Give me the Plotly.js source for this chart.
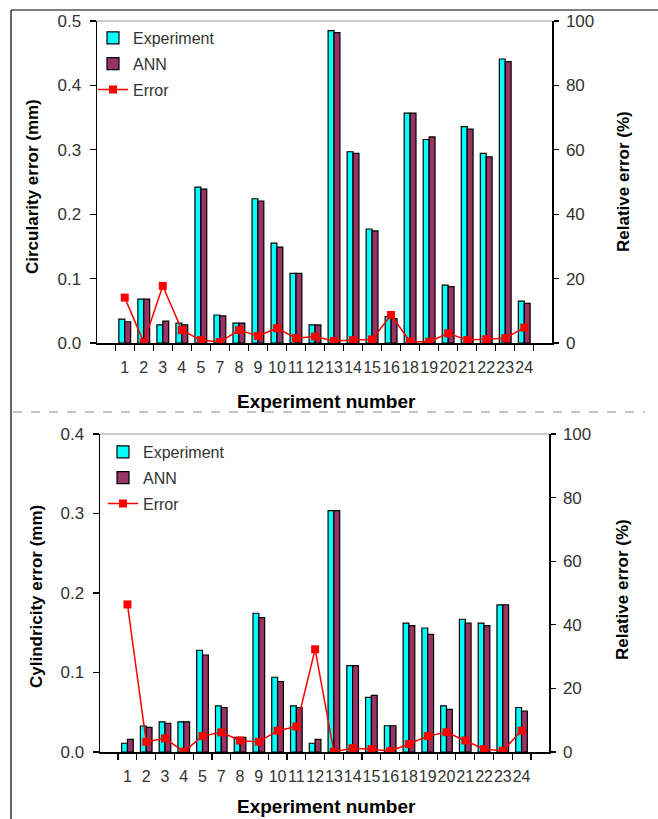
<!DOCTYPE html>
<html>
<head>
<meta charset="utf-8">
<script src="https://cdn.plot.ly/plotly-3.0.1.min.js"></script>
<style>html,body{margin:0;padding:0;background:#fff;}#chart{width:658px;height:819px;}</style>
</head>
<body>
<div id="chart"></div>
<script>
// Experiment numbers (6 and 17 are absent in the source chart)
const experimentNumbers = ['1','2','3','4','5','7','8','9','10','11','12','13','14','15','16','18','19','20','21','22','23','24'];

// Top panel: circularity error (mm) and relative error (%)
const circularityExperiment = [0.037,0.068,0.028,0.031,0.242,0.0435,0.031,0.224,0.155,0.108,0.028,0.485,0.297,0.177,0.041,0.357,0.316,0.090,0.336,0.2945,0.441,0.065];
const circularityANN        = [0.033,0.068,0.034,0.028,0.239,0.042,0.031,0.2205,0.149,0.108,0.028,0.482,0.2945,0.174,0.038,0.357,0.320,0.0875,0.332,0.289,0.437,0.0616];
const circularityRelError   = [14.1,0.2,17.7,4.0,0.9,0.3,4.0,2.2,4.6,1.5,2.0,0.6,0.9,1.1,8.7,0.4,0.4,3.0,0.9,1.2,1.5,4.8];

// Bottom panel: cylindricity error (mm) and relative error (%)
const cylindricityExperiment = [0.011,0.0327,0.038,0.038,0.128,0.058,0.0185,0.1745,0.094,0.058,0.011,0.3035,0.1086,0.0688,0.033,0.162,0.156,0.058,0.167,0.162,0.185,0.056];
const cylindricityANN        = [0.016,0.031,0.036,0.038,0.122,0.056,0.0185,0.169,0.0885,0.056,0.016,0.3035,0.1086,0.0713,0.033,0.159,0.148,0.0537,0.162,0.159,0.185,0.0516];
const cylindricityRelError   = [46.4,3.2,4.3,0.1,5.0,6.2,3.6,3.2,6.7,8.0,32.3,0.1,1.2,0.9,0.3,2.5,5.0,6.2,3.6,0.9,0.4,6.7];

const seriesNames = ['Experiment','ANN','Error'];

const W = 658, H = 819;
const px = v => v / W;
const py = v => 1 - v / H;

const CYAN = '#00FFFF', PLUM = '#993366', RED = '#FF0000';
const TXT = '#333333';
const FAM = 'Liberation Sans, Arial, sans-serif';
const tickFont = {family: FAM, size: 17, color: TXT};
const xTickFont = {family: 'Liberation Sans Narrow, Arial Narrow, Liberation Sans, sans-serif', size: 16, color: TXT};
const titleFont = {family: FAM, size: 17, color: '#000'};
const xTitleFont = {family: FAM, size: 19, color: '#000'};

function barTrace(y, name, color, xa, ya, legend, group) {
  return {type: 'bar', x: experimentNumbers, y: y, name: name, xaxis: xa, yaxis: ya,
    legend: legend, legendgroup: group,
    marker: {color: color, line: {color: '#000', width: 1.2}}};
}
function errTrace(y, xa, ya, legend, group) {
  return {type: 'scatter', mode: 'lines+markers', x: experimentNumbers, y: y, name: seriesNames[2],
    xaxis: xa, yaxis: ya, legend: legend, legendgroup: group,
    line: {color: RED, width: 1.5}, marker: {symbol: 'square', size: 8, color: RED}};
}

const data = [
  barTrace(circularityExperiment, seriesNames[0], CYAN, 'x', 'y', 'legend', 'a1'),
  barTrace(circularityANN, seriesNames[1], PLUM, 'x', 'y', 'legend', 'a2'),
  errTrace(circularityRelError, 'x', 'y2', 'legend', 'a3'),
  barTrace(cylindricityExperiment, seriesNames[0], CYAN, 'x2', 'y3', 'legend2', 'b1'),
  barTrace(cylindricityANN, seriesNames[1], PLUM, 'x2', 'y3', 'legend2', 'b2'),
  errTrace(cylindricityRelError, 'x2', 'y4', 'legend2', 'b3')
];

function xAxis(domain, anchor) {
  return {type: 'category', domain: domain, anchor: anchor, showline: true, linecolor: '#000', linewidth: 1.5,
    tickmode: 'array', tickvals: experimentNumbers, ticktext: experimentNumbers,
    ticks: 'outside', ticklen: 6, tickcolor: '#000', tickwidth: 1.2, tickson: 'boundaries',
    ticklabelstandoff: 9, tickfont: xTickFont, tickangle: 0, showgrid: false, zeroline: false, fixedrange: true};
}
function yLeft(domain, anchor, range) {
  return {domain: domain, anchor: anchor, range: range, dtick: 0.1, tickformat: '.1f',
    showline: true, linecolor: '#000', linewidth: 1.5, ticks: 'outside', ticklen: 6, tickcolor: '#000', tickwidth: 1.2,
    ticklabelstandoff: 5, tickfont: tickFont, showgrid: false, zeroline: false};
}
function yRight(overlay, anchor) {
  return {overlaying: overlay, anchor: anchor, side: 'right', range: [0, 100], dtick: 20,
    showline: true, linecolor: '#000', linewidth: 1.5, ticks: 'outside', ticklen: 5, tickcolor: '#000', tickwidth: 1.2,
    ticklabelstandoff: 4, tickfont: tickFont, showgrid: false, zeroline: false};
}

const legendCommon = {font: {family: FAM, size: 16, color: TXT},
  bgcolor: 'rgba(0,0,0,0)', traceorder: 'grouped', tracegroupgap: 2, itemwidth: 30,
  xanchor: 'left', yanchor: 'top'};

function ann(text, x, y, font, angle) {
  return {text: '<b>' + text + '</b>', xref: 'paper', yref: 'paper', x: px(x), y: py(y),
    textangle: angle || 0, showarrow: false, font: font, xanchor: 'center', yanchor: 'middle'};
}

const layout = {
  width: W, height: H, margin: {l: 0, r: 0, t: 0, b: 0},
  paper_bgcolor: '#fff', plot_bgcolor: '#fff', showlegend: true,
  barmode: 'group', bargap: 0.38, bargroupgap: 0,
  xaxis: xAxis([px(97), px(552)], 'y'),
  yaxis: yLeft([py(343), py(21)], 'x', [0, 0.5]),
  yaxis2: yRight('y', 'x'),
  xaxis2: xAxis([px(100), px(549)], 'y3'),
  yaxis3: yLeft([py(752), py(434)], 'x2', [0, 0.4]),
  yaxis4: yRight('y3', 'x2'),
  legend: Object.assign({}, legendCommon, {x: px(93), y: py(21)}),
  legend2: Object.assign({}, legendCommon, {x: px(103), y: py(435)}),
  annotations: [
    ann('Circularity error (mm)', 33, 187, titleFont, -90),
    ann('Relative error (%)', 623, 182, titleFont, -90),
    ann('Experiment number', 326, 401, xTitleFont),
    ann('Cylindricity error (mm)', 36, 597, titleFont, -90),
    ann('Relative error (%)', 622, 590, titleFont, -90),
    ann('Experiment number', 326, 806, xTitleFont)
  ],
  shapes: [
    {type: 'line', xref: 'paper', yref: 'paper', x0: px(11), x1: 1, y0: py(10), y1: py(10), line: {color: '#000', width: 1.2}},
    {type: 'line', xref: 'paper', yref: 'paper', x0: px(11), x1: px(11), y0: py(10), y1: 0, line: {color: '#000', width: 1.2}},
    {type: 'line', xref: 'x domain', yref: 'y domain', x0: 0, x1: 1, y0: 1, y1: 1, line: {color: '#999', width: 1.2}},
    {type: 'line', xref: 'x2 domain', yref: 'y3 domain', x0: 0, x1: 1, y0: 1, y1: 1, line: {color: '#999', width: 1.2}},
    {type: 'line', xref: 'paper', yref: 'paper', x0: px(13), x1: px(645), y0: py(412), y1: py(412), line: {color: '#888', width: 1, dash: 'dash'}}
  ]
};

Plotly.newPlot('chart', data, layout, {displayModeBar: false, staticPlot: true});
</script>
</body>
</html>
